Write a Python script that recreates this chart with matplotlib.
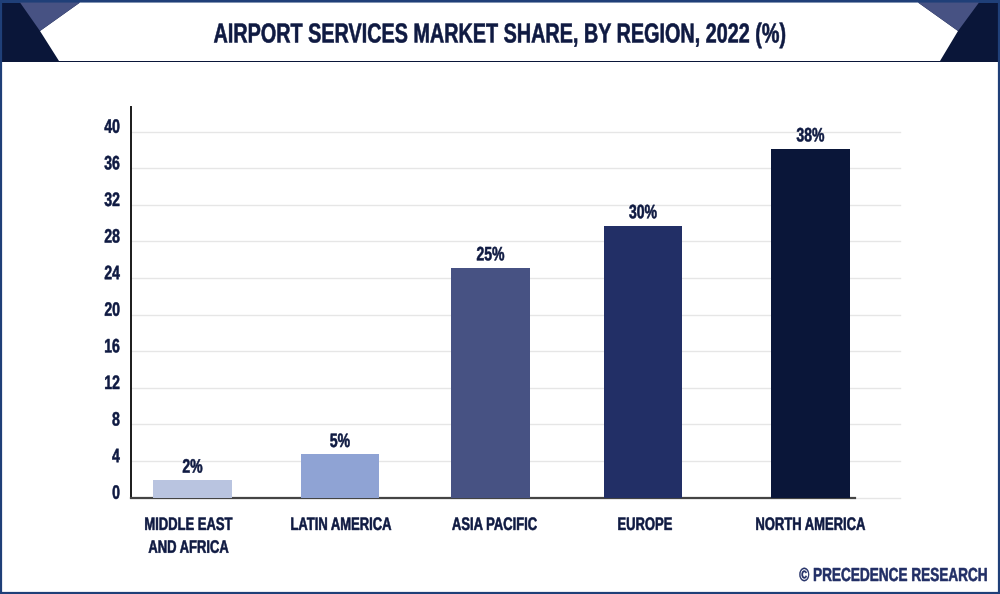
import matplotlib
matplotlib.use("Agg")
import matplotlib.pyplot as plt
from matplotlib.patches import Polygon, Rectangle
from matplotlib.textpath import TextPath
from matplotlib.transforms import Affine2D, ScaledTranslation
from matplotlib.backends.backend_agg import RendererAgg

regions = ["MIDDLE EAST\nAND AFRICA", "LATIN AMERICA", "ASIA PACIFIC", "EUROPE", "NORTH AMERICA"]
values = [1.9, 4.7, 25.1, 29.7, 38.1]
labels = ["2%", "5%", "25%", "30%", "38%"]
yticks = list(range(0, 44, 4))
title = "AIRPORT SERVICES MARKET SHARE, BY REGION, 2022 (%)"
credit = "© PRECEDENCE RESEARCH"

bar_centers = [192.5, 340, 490.5, 643, 810.5]
bar_colors = ["#b9c4e0", "#8fa3d4", "#475283", "#222f66", "#0a1639"]
label_shift_px = [-4, 1, 4, 2, 0]
NAVY = "#0f1a42"

# No condensed display face is installed: real text drawn with a horizontal squeeze.
SQUEEZE = 0.72
_orig_measure = RendererAgg.get_text_width_height_descent


def _measure(self, s, prop, ismath):
    w, h, d = _orig_measure(self, s, prop, ismath)
    return w * SQUEEZE, h, d


def _draw_text(self, gc, x, y, s, prop, angle, ismath=False, mtext=None):
    path = TextPath((0, 0), s, prop=prop)
    k = self.points_to_pixels(1.0)
    tr = Affine2D().scale(SQUEEZE * k, k).rotate_deg(angle).translate(x, self.height - y)
    gc.set_linewidth(0.35)
    self.draw_path(gc, path, tr, gc.get_rgb())


RendererAgg.get_text_width_height_descent = _measure
RendererAgg.draw_text = _draw_text

plt.rcParams["font.family"] = ["Liberation Sans", "DejaVu Sans"]
plt.rcParams["font.weight"] = "bold"

W, H = 1000, 594
fig = plt.figure(figsize=(W / 100, H / 100), dpi=100, facecolor="white")

bg = fig.add_axes([0, 0, 1, 1], zorder=0)
bg.set_xlim(0, W)
bg.set_ylim(H, 0)
bg.axis("off")
bg.add_patch(Rectangle((0, 0), W, 62, fc="#0a1639", ec="none"))
bg.add_patch(Rectangle((0, 0), W, 2.5, fc="#1f3f78", ec="none"))
bg.add_patch(Polygon([(80, 2.5), (40, 31), (59, 61), (940, 61), (958, 31), (918, 2.5)], fc="white", ec="none"))
bg.add_patch(Polygon([(20, 2.5), (80, 2.5), (40, 31)], fc="#475283", ec="none"))
bg.add_patch(Polygon([(918, 2.5), (979, 2.5), (958, 31)], fc="#475283", ec="none"))
bg.add_patch(Rectangle((0.8, 0.8), W - 1.6, H - 1.6, fc="none", ec="#1f3f78", lw=1.6))
bg.text(500, 35.5, title, ha="center", va="center", fontsize=19.8, color=NAVY)
bg.text(987, 576.5, credit, ha="right", va="center", fontsize=13.6, color="#222f66")

left, right, base, top = 131, 900, 497.5, 107
ax = fig.add_axes([left / W, (H - base) / H, (right - left) / W, (base - top) / H], zorder=1)
ax.patch.set_alpha(0)
ax.set_xlim(left, right)
ax.set_ylim(0, (base - top) / 9.15)
ax.bar(bar_centers, values, width=78.5, color=bar_colors, zorder=3)
for x, v, s in zip(bar_centers, values, labels):
    ax.annotate(s, (x, v), xytext=(0, 2.5), textcoords="offset points", ha="center", va="bottom",
                fontsize=14, color=NAVY, zorder=4)
ax.set_yticks(yticks)
ax.set_yticklabels([str(t) for t in yticks], fontsize=14, color=NAVY)
ax.set_xticks(bar_centers)
ax.set_xticklabels(regions, fontsize=13, color=NAVY, linespacing=1.45)
ax.tick_params(axis="y", length=0, pad=8)
ax.tick_params(axis="x", length=0, pad=14)
raise_up = ScaledTranslation(0, 5.2 / 100, fig.dpi_scale_trans)
for lbl in ax.get_yticklabels():
    lbl.set_transform(lbl.get_transform() + raise_up)
for lbl, dx in zip(ax.get_xticklabels(), label_shift_px):
    lbl.set_transform(lbl.get_transform() + ScaledTranslation(dx / 100, 0, fig.dpi_scale_trans))
ax.grid(axis="y", color="#e6e6e6", lw=1, zorder=0, clip_on=False)
ax.set_axisbelow(True)
for s in ("top", "right"):
    ax.spines[s].set_visible(False)
ax.spines["left"].set_linewidth(1.4)
ax.spines["left"].set_color("#1a1a1a")
ax.spines["bottom"].set_linewidth(1.6)
ax.spines["bottom"].set_color("#444444")
ax.spines["bottom"].set_bounds(left, 855)

fig.savefig("out.png", dpi=100)
